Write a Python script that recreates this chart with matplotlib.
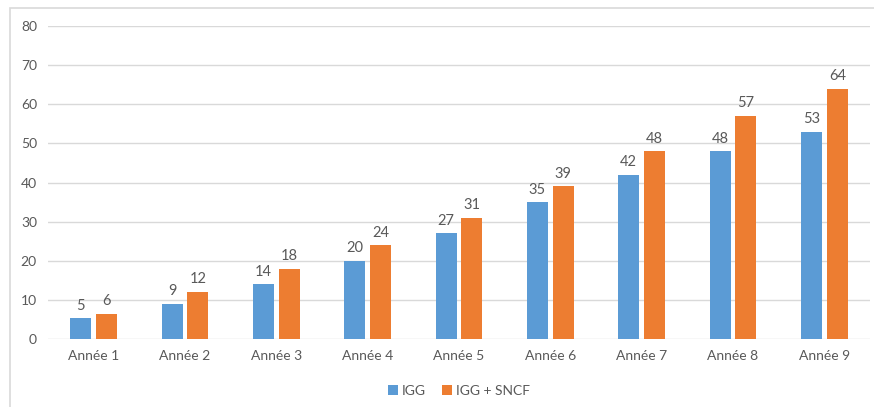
import matplotlib.pyplot as plt
import numpy as np
from matplotlib.patches import Rectangle

plt.rcParams['font.family'] = ['Lato', 'DejaVu Sans']

annees = ["Année 1", "Année 2", "Année 3", "Année 4", "Année 5",
          "Année 6", "Année 7", "Année 8", "Année 9"]
igg = [5.3, 9, 14, 20, 27, 35, 42, 48, 53]
igg_sncf = [6.4, 12, 18, 24, 31, 39, 48, 57, 64]
yticks = [0, 10, 20, 30, 40, 50, 60, 70, 80]

bleu = "#5B9BD5"
orange = "#ED7D31"
gris_txt = "#595959"
gris_grille = "#D9D9D9"

fig = plt.figure(figsize=(8.74, 4.07), dpi=100)
ax = fig.add_axes([48/874, 68/407, 822/874, 313/407])

# cadre du graphique (coupé à droite et en bas)
fig.patches.append(Rectangle((10/874, -0.1), 1.0, 0.1 + 399/407,
                             transform=fig.transFigure, fill=False,
                             edgecolor=gris_grille, linewidth=1.2))

x = np.arange(len(annees))
w = 0.23
b1 = ax.bar(x - 0.142, igg, w, color=bleu, label="IGG", zorder=3)
b2 = ax.bar(x + 0.142, igg_sncf, w, color=orange, label="IGG + SNCF", zorder=3)
ax.bar_label(b1, fmt="%.0f", padding=4, fontsize=10.5, color=gris_txt)
ax.bar_label(b2, fmt="%.0f", padding=4, fontsize=10.5, color=gris_txt)

ax.set_xlim(-0.5, len(annees) - 0.5)
ax.set_ylim(0, 80)
ax.set_yticks(yticks)
ax.set_xticks(x)
ax.set_xticklabels(annees)
ax.grid(axis="y", color=gris_grille, linewidth=1, zorder=0)
ax.tick_params(length=0, labelsize=10, colors=gris_txt)
ax.tick_params(axis="y", pad=8)
ax.tick_params(axis="x", pad=8)
for s in ax.spines.values():
    s.set_visible(False)

ax.legend(loc="center", bbox_to_anchor=(0.5, -0.165), ncol=2, frameon=False,
          fontsize=10, labelcolor=gris_txt, handlelength=0.7, handleheight=0.7,
          handletextpad=0.3, columnspacing=1.2)

fig.savefig("out.png", dpi=100)
